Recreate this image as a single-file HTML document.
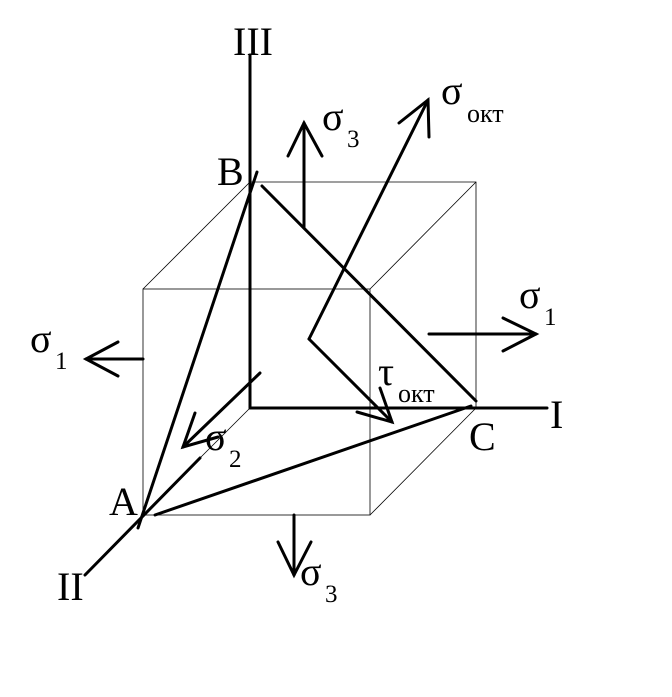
<!DOCTYPE html>
<html><head><meta charset="utf-8"><style>html,body{margin:0;padding:0;background:#fff}svg{display:block}</style></head>
<body>
<svg width="672" height="697" viewBox="0 0 672 697" xmlns="http://www.w3.org/2000/svg" font-family="Liberation Serif, DejaVu Serif, serif">
<g stroke="#000" stroke-width="0.8" fill="none">
<rect x="143" y="289" width="227" height="226"/>
<polyline points="143,289 250,182 476,182 476,408 370,515"/>
<line x1="370" y1="289" x2="476" y2="182"/>
<line x1="250" y1="408" x2="200" y2="458"/>
</g>
<g stroke="#000" stroke-width="3" fill="none" stroke-linecap="round">
<line x1="250" y1="55" x2="250" y2="408"/>
<line x1="250" y1="408" x2="547" y2="408"/>
<line x1="200" y1="458" x2="85" y2="575"/>
<line x1="262" y1="186" x2="476" y2="401"/>
<line x1="138" y1="528" x2="257" y2="172"/>
<line x1="155" y1="515" x2="471" y2="406"/>
<line x1="260" y1="373" x2="183" y2="447"/>
<polyline points="195,413 183,447 218,437"/>
<line x1="304" y1="228" x2="304" y2="123"/>
<polyline points="288,156 304,123 322,156"/>
<line x1="309" y1="339" x2="428" y2="100"/>
<polyline points="399,123 428,100 429,137"/>
<line x1="309" y1="339" x2="392" y2="422"/>
<polyline points="357,412 392,422 380,388"/>
<line x1="429" y1="334" x2="536" y2="334"/>
<polyline points="503,318 536,334 503,351"/>
<line x1="143" y1="359" x2="86" y2="359"/>
<polyline points="118,342 86,359 118,376"/>
<line x1="294" y1="515" x2="294" y2="575"/>
<polyline points="278,542 294,575 311,542"/>
</g>
<g fill="#000" font-size="40">
<text x="233" y="55">III</text>
<text x="217" y="185">B</text>
<text x="322" y="130">σ</text><text x="347" y="147" font-size="25">3</text>
<text x="441" y="104">σ</text><text x="467" y="122" font-size="26">окт</text>
<text x="519" y="308">σ</text><text x="544" y="325" font-size="25">1</text>
<text x="30" y="352">σ</text><text x="55" y="369" font-size="25">1</text>
<text x="378" y="385">τ</text><text x="398" y="402" font-size="26">окт</text>
<text x="550" y="428">I</text>
<text x="469" y="450">C</text>
<text x="205" y="450">σ</text><text x="229" y="467" font-size="25">2</text>
<text x="109" y="515">A</text>
<text x="57" y="600">II</text>
<text x="300" y="585">σ</text><text x="325" y="602" font-size="25">3</text>
</g>
</svg>
</body></html>
